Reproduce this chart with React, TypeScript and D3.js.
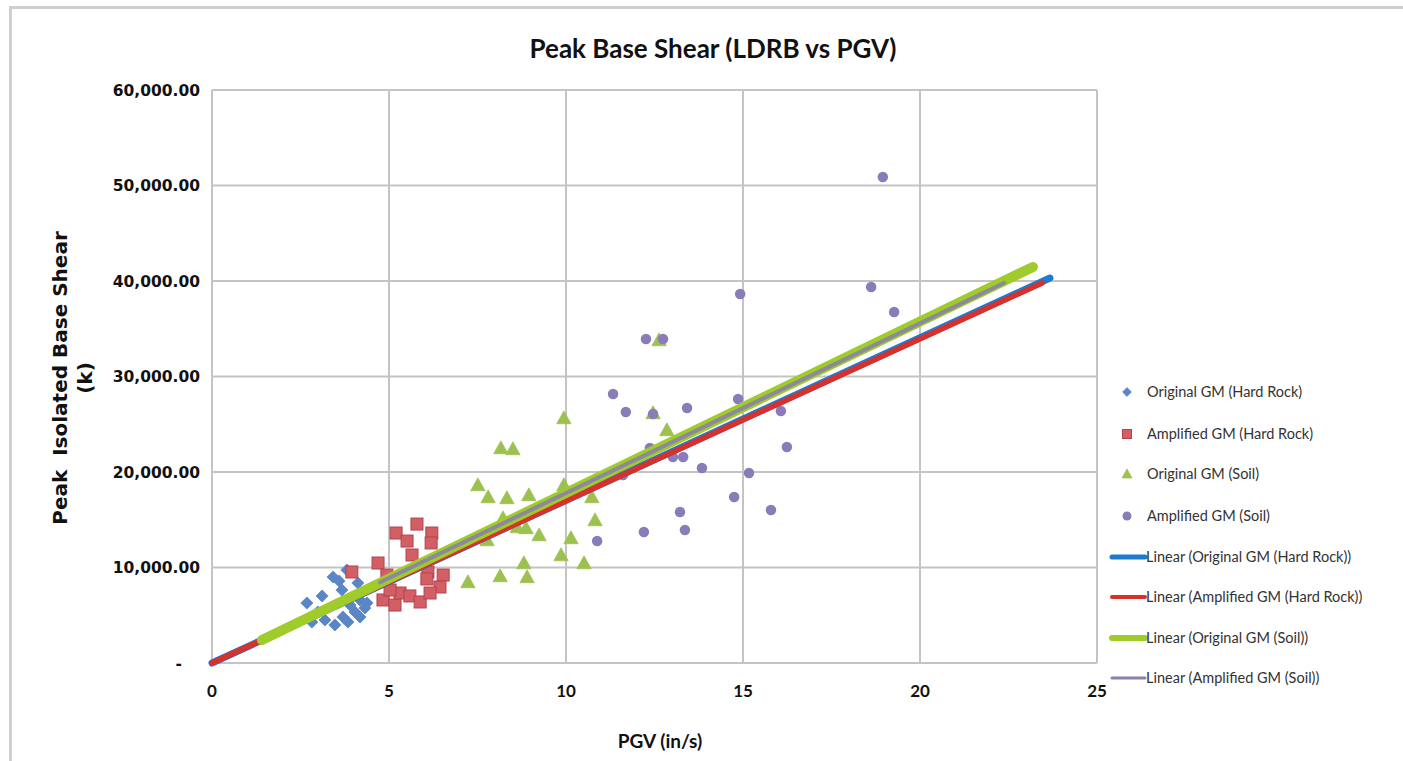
import React from "react";
import * as d3 from "d3";

// ---- data ----
const xTicks = [0, 5, 10, 15, 20, 25];
const yTicks = [0, 10000, 20000, 30000, 40000, 50000, 60000];

// Original GM (Hard Rock): [PGV in/s, peak base shear k]
const originalHardRock: [number, number][] = [
  [2.68, 6280], [3.11, 7020], [3.42, 9010], [3.59, 8590], [3.81, 9740],
  [3.67, 7640], [4.12, 8380], [4.18, 6600], [3.9, 6070], [4.04, 5340],
  [4.32, 5760], [4.38, 6280], [3.19, 4500], [3.47, 3980], [3.84, 4290],
  [2.82, 4290], [4.18, 4820], [3.7, 4820], [2.99, 5340],
];

// Amplified GM (Hard Rock)
const amplifiedHardRock: [number, number][] = [
  [3.95, 9530], [4.69, 10470], [5.2, 13610], [5.51, 12770], [5.79, 14550],
  [6.21, 13610], [6.19, 12570], [5.65, 11310], [6.1, 9530], [6.53, 9210],
  [6.07, 8800], [6.44, 7960], [4.83, 6600], [5.17, 6070], [5.31, 7330],
  [5.59, 7020], [5.88, 6390], [6.16, 7330], [5.03, 7640], [4.94, 9210],
];

// Original GM (Soil)
const originalSoil: [number, number][] = [
  [9.94, 25650], [8.16, 22510], [8.5, 22410], [7.51, 18640], [7.8, 17380],
  [8.33, 17280], [8.95, 17590], [9.94, 18640], [10.73, 17380], [10.82, 14970],
  [9.24, 13400], [10.14, 13090], [8.87, 14140], [8.62, 14240], [7.77, 12880],
  [9.86, 11310], [10.51, 10470], [8.81, 10470], [8.9, 9010], [8.14, 9110],
  [7.23, 8480], [12.63, 33820], [12.46, 26180], [12.85, 24400], [8.22, 15180],
];

// Amplified GM (Soil)
const amplifiedSoil: [number, number][] = [
  [12.26, 33930], [12.74, 33930], [11.33, 28170], [11.69, 26280], [12.46, 26070],
  [13.42, 26700], [14.86, 27640], [16.07, 26390], [16.24, 22620], [13.02, 21570],
  [13.31, 21570], [12.37, 22510], [13.84, 20420], [15.17, 19900], [11.61, 19690],
  [14.75, 17380], [15.79, 16020], [13.22, 15810], [12.2, 13720], [13.36, 13930],
  [10.88, 12770], [18.95, 50890], [14.92, 38640], [18.62, 39370], [19.27, 36750],
];

// Linear trendlines: slope (k per in/s), intercept (k), drawn x-range
const trendNames = [
  "Linear (Original GM (Hard Rock))",
  "Linear (Amplified GM (Hard Rock))",
  "Linear (Original GM (Soil))",
  "Linear (Amplified GM (Soil))",
];
const trendSlopes = [1703, 1697, 1794, 1779];
const trendIntercepts = [0, 0, -130, 0];
const trendStarts = [0, 0, 1.41, 4.75];
const trendEnds = [23.67, 23.45, 23.19, 22.37];

const seriesNames = [
  "Original GM (Hard Rock)",
  "Amplified GM (Hard Rock)",
  "Original GM (Soil)",
  "Amplified GM (Soil)",
];

// ---- styling ----
const W = 1403;
const H = 761;
const plot = { left: 212, right: 1097, top: 90, bottom: 663 };
const gridColor = "#c4c4c4";
const font = "Lato, 'Open Sans', sans-serif";
const wideFont = "'DejaVu Sans', sans-serif";

const markerColors = ["#5a86c6", "#d35e63", "#9dc150", "#8a7cb8"];
const markerStroke = ["#5a86c6", "#b04452", "#9dc150", "#8a7cb8"];
const trendColors = ["#1f7bd0", "#d8302b", "#9fcb2b", "#8d889e"];
const trendWidths = [7, 5.5, 10, 4];
const legendLineColors = ["#1f7bd0", "#d8302b", "#9fcb2b", "#8d7fb0"];
const legendLineWidths = [5, 4, 6, 3];

const x = d3.scaleLinear().domain([0, 25]).range([plot.left, plot.right]);
const y = d3.scaleLinear().domain([0, 60000]).range([plot.bottom, plot.top]);
const fmt = d3.format(",.2f");

function Marker({ kind, cx, cy, s }: { kind: number; cx: number; cy: number; s: number }) {
  const fill = markerColors[kind];
  const stroke = markerStroke[kind];
  if (kind === 0) {
    const r = s * 0.55;
    return (
      <path
        d={`M${cx},${cy - r}L${cx + r},${cy}L${cx},${cy + r}L${cx - r},${cy}Z`}
        fill={fill}
        stroke={stroke}
        strokeWidth={0.8}
      />
    );
  }
  if (kind === 1) {
    const h = s * 0.5;
    return (
      <rect x={cx - h} y={cy - h} width={2 * h} height={2 * h} fill={fill} stroke={stroke} strokeWidth={1} />
    );
  }
  if (kind === 2) {
    const h = s * 0.55;
    return (
      <path
        d={`M${cx},${cy - h}L${cx + h},${cy + h * 0.8}L${cx - h},${cy + h * 0.8}Z`}
        fill={fill}
        stroke={stroke}
        strokeWidth={0.8}
        strokeLinejoin="round"
      />
    );
  }
  return <circle cx={cx} cy={cy} r={s * 0.5} fill={fill} />;
}

export default function App() {
  const series = [originalHardRock, amplifiedHardRock, originalSoil, amplifiedSoil];
  const sizes = [11, 12, 13, 10.5];
  const legendRows = [392, 434, 474, 516, 557, 597, 638, 678];

  return (
    <svg
      width={W}
      height={H}
      style={{ position: "absolute", left: 0, top: 0, background: "#fff" }}
      fontFamily={font}
    >
      <rect x={0} y={0} width={W} height={H} fill="#fff" />
      {/* chart area frame */}
      <rect x={10.5} y={7.5} width={1400} height={780} fill="none" stroke="#cfcfcf" strokeWidth={3} />

      {/* title */}
      <text x={713} y={58} textAnchor="middle" fontSize={26} fontWeight={700} fill="#111">
        Peak Base Shear (LDRB vs PGV)
      </text>

      {/* gridlines */}
      {yTicks.map((t) => (
        <line key={"gy" + t} x1={plot.left} x2={plot.right} y1={y(t)} y2={y(t)} stroke={gridColor} strokeWidth={2} />
      ))}
      {xTicks.map((t) => (
        <line key={"gx" + t} x1={x(t)} x2={x(t)} y1={plot.top} y2={plot.bottom} stroke={gridColor} strokeWidth={2} />
      ))}

      {/* y tick labels */}
      {yTicks.map((t) => (
        <text
          key={"ly" + t}
          x={t === 0 ? 182 : 200}
          y={y(t) + 5.5}
          textAnchor="end"
          fontFamily={wideFont}
          fontSize={15.5}
          fontWeight={700}
          fill="#111"
        >
          {t === 0 ? "-" : fmt(t)}
        </text>
      ))}

      {/* x tick labels */}
      {xTicks.map((t) => (
        <text key={"lx" + t} x={x(t)} y={697} textAnchor="middle" fontSize={17} fontWeight={700} fill="#111">
          {t}
        </text>
      ))}

      {/* axis titles */}
      <text x={660} y={748} textAnchor="middle" fontSize={19} fontWeight={700} fill="#111">
        PGV (in/s)
      </text>
      <g transform={`translate(67, 378) rotate(-90)`}>
        <text
          x={0}
          y={0}
          textAnchor="middle"
          fontFamily={wideFont}
          fontSize={20}
          fontWeight={700}
          fill="#111"
          xmlSpace="preserve"
        >
          {"Peak  Isolated Base Shear"}
        </text>
        <text x={0} y={25} textAnchor="middle" fontFamily={wideFont} fontSize={20} fontWeight={700} fill="#111">
          (k)
        </text>
      </g>

      {/* scatter markers */}
      {series.map((pts, i) => (
        <g key={"s" + i}>
          {pts.map(([px, py], j) => (
            <Marker key={j} kind={i} cx={x(px)} cy={y(py)} s={sizes[i]} />
          ))}
        </g>
      ))}

      {/* trendlines */}
      {trendSlopes.map((m, i) => {
        const line = d3
          .line<number>()
          .x((v) => x(v))
          .y((v) => y(m * v + trendIntercepts[i]));
        return (
          <path
            key={"t" + i}
            d={line([trendStarts[i], trendEnds[i]]) || ""}
            fill="none"
            stroke={trendColors[i]}
            strokeWidth={trendWidths[i]}
            strokeLinecap="round"
          />
        );
      })}

      {/* legend */}
      {seriesNames.map((name, i) => (
        <g key={"lg" + i}>
          <Marker kind={i} cx={1127} cy={legendRows[i]} s={i === 0 ? 8 : 9} />
          <text x={1147} y={legendRows[i] + 5} fontSize={14.5} fill="#333">
            {name}
          </text>
        </g>
      ))}
      {trendNames.map((name, i) => (
        <g key={"lt" + i}>
          <line
            x1={1112}
            x2={1145}
            y1={legendRows[i + 4]}
            y2={legendRows[i + 4]}
            stroke={legendLineColors[i]}
            strokeWidth={legendLineWidths[i]}
            strokeLinecap="round"
          />
          <text x={1146} y={legendRows[i + 4] + 5} fontSize={14.5} fill="#333">
            {name}
          </text>
        </g>
      ))}
    </svg>
  );
}
